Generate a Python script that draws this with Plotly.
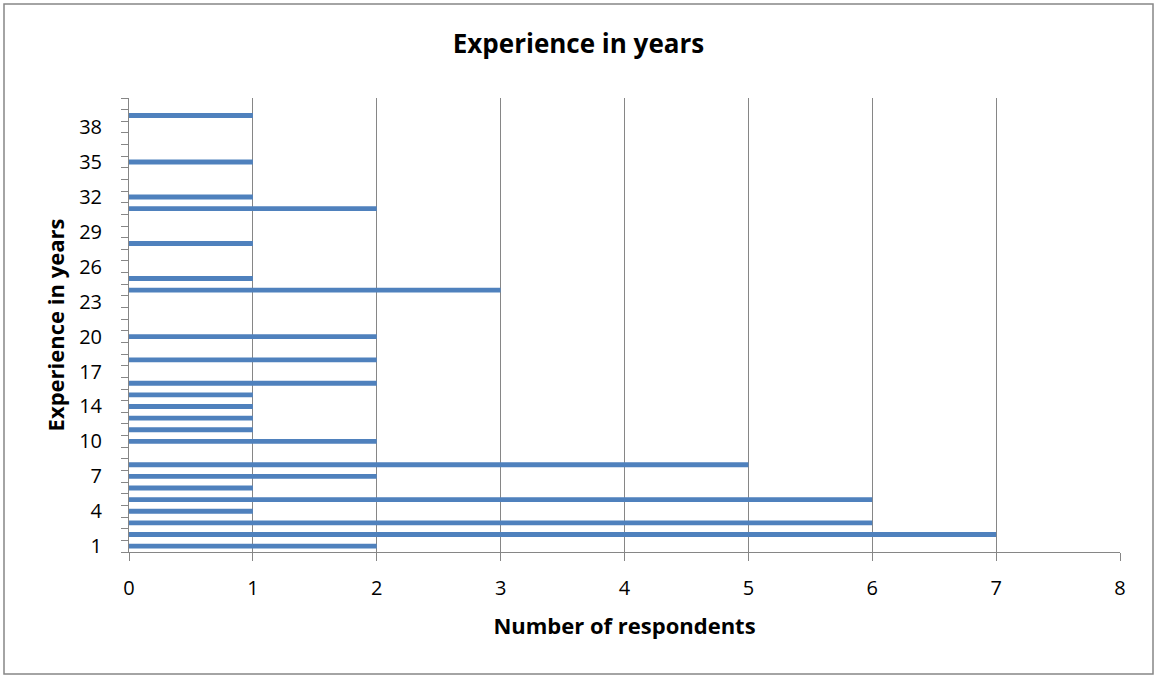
import plotly.graph_objects as go

# Years of experience (category axis order, bottom to top) and respondent counts
years = [1, 2, 3, 4, 5, 6, 7, 8, 9, 10, 12, 13, 14, 15, 16, 17, 18, 19, 20,
         21, 22, 23, 24, 25, 26, 27, 28, 29, 30, 31, 32, 33, 34, 35, 36, 37,
         38, 39, 40]
respondents = [2, 7, 6, 1, 6, 1, 2, 5, 0, 2, 1, 1, 1, 1, 2, 0, 2, 0, 2,
               0, 0, 0, 3, 1, 0, 0, 1, 0, 0, 2, 1, 0, 0, 1, 0, 0,
               0, 1, 0]
x_ticks = [0, 1, 2, 3, 4, 5, 6, 7, 8]

positions = list(range(len(years)))
label_pos = positions[::3]
label_text = [str(years[i]) for i in label_pos]

FONT = "Open Sans"
GRID = "#868686"
BAR = "#4F81BD"

fig = go.Figure(
    go.Bar(
        x=respondents,
        y=positions,
        orientation="h",
        width=0.42,
        marker=dict(color=BAR, line=dict(width=0)),
        hoverinfo="x+text",
        text=[str(y) for y in years],
        textposition="none",
    )
)

fig.update_layout(
    width=1157,
    height=678,
    margin=dict(l=129, r=37, t=98, b=126),
    paper_bgcolor="white",
    plot_bgcolor="white",
    showlegend=False,
    font=dict(family=FONT, color="black"),
    title=dict(
        text="<b>Experience in years</b>",
        x=0.5,
        xref="container",
        xanchor="center",
        y=1 - 44 / 678,
        yanchor="middle",
        font=dict(size=26, family=FONT, color="black"),
    ),
    xaxis=dict(
        range=[0, 8],
        tickvals=x_ticks,
        ticktext=[str(v) for v in x_ticks],
        showgrid=True,
        gridcolor=GRID,
        gridwidth=1,
        showline=True,
        linecolor=GRID,
        linewidth=1,
        ticks="outside",
        ticklen=8,
        tickcolor=GRID,
        tickfont=dict(size=20, family=FONT),
        ticklabelstandoff=10,
        zeroline=False,
        title=dict(text="<b>Number of respondents</b>",
                   font=dict(size=22, family=FONT), standoff=18),
    ),
    yaxis=dict(
        range=[-0.5, len(years) - 0.5],
        tickvals=label_pos,
        ticktext=label_text,
        ticks="",
        showgrid=False,
        showline=True,
        linecolor=GRID,
        linewidth=1,
        zeroline=False,
        tickfont=dict(size=20, family=FONT),
        ticklabelstandoff=22,
        minor=dict(ticks="outside", tick0=-0.5, dtick=1, ticklen=7,
                   tickcolor=GRID, showgrid=False),
        title=dict(text="<b>Experience in years</b>",
                   font=dict(size=22, family=FONT), standoff=8),
    ),
    shapes=[
        dict(type="rect", xref="paper", yref="paper",
             x0=-125 / 991, x1=1 + 33 / 991,
             y0=-122 / 454, y1=1 + 94 / 454,
             line=dict(color="#878787", width=1.5), layer="below"),
    ],
)

fig.write_html("out.html")
